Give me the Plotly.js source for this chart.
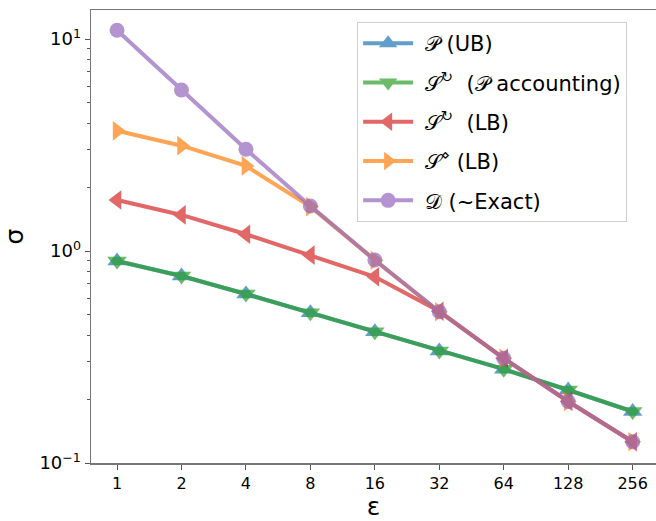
<!DOCTYPE html>
<html>
<head>
<meta charset="utf-8">
<script src="https://cdn.plot.ly/plotly-3.0.1.min.js"></script>
<style>html,body{margin:0;padding:0;overflow:hidden;background:#fff}</style>
</head>
<body>
<div id="chart" style="width:656px;height:521px"></div>
<script>
const epsilon = [1, 2, 4, 8, 16, 32, 64, 128, 256];
const epsLabels = ["1", "2", "4", "8", "16", "32", "64", "128", "256"];
const pUB = [0.897, 0.762, 0.627, 0.512, 0.416, 0.338, 0.277, 0.221, 0.175];
const sCycAcc = [0.897, 0.762, 0.627, 0.512, 0.416, 0.338, 0.277, 0.221, 0.175];
const sCycLB = [1.74, 1.48, 1.20, 0.957, 0.756, 0.52, 0.312, 0.195, 0.126];
const sDiaLB = [3.69, 3.14, 2.52, 1.62, 0.905, 0.517, 0.312, 0.195, 0.126];
const dExact = [11.0, 5.75, 3.02, 1.63, 0.907, 0.517, 0.312, 0.195, 0.126];

const names = [
  " <span style='font-family:DejaVu Serif'>𝒫</span> (UB)",
  " <span style='font-family:DejaVu Serif'>𝒮</span><sup>↻</sup>  (<span style='font-family:DejaVu Serif'>𝒫</span> accounting)",
  " <span style='font-family:DejaVu Serif'>𝒮</span><sup>↻</sup>  (LB)",
  " <span style='font-family:DejaVu Serif'>𝒮</span><sup>⋄</sup> (LB)",
  " <span style='font-family:DejaVu Serif'>𝒟</span> (~Exact)"
];
const series = [pUB, sCycAcc, sCycLB, sDiaLB, dExact];
const colors = ["#1f77b4", "#2ca02c", "#d62728", "#ff7f0e", "#9467bd"];
const symbols = ["triangle-up", "triangle-down", "triangle-left", "triangle-right", "circle"];
const sizes = [17, 17, 17, 17, 15];

const traces = series.map((ys, i) => ({
  x: epsilon, y: ys, name: names[i], type: "scatter", mode: "lines+markers",
  legendgroup: "g" + i,
  opacity: 0.7,
  line: {color: colors[i], width: 4},
  marker: {color: colors[i], symbol: symbols[i], size: sizes[i], line: {width: 0}}
}));

const L2 = Math.log10(2);
const layout = {
  width: 656, height: 521,
  margin: {l: 91, r: 0, t: 10, b: 58},
  paper_bgcolor: "#fff", plot_bgcolor: "#fff",
  font: {family: "DejaVu Sans", color: "#000", size: 15},
  showlegend: true,
  legend: {
    x: 0.471, y: 0.9735, xanchor: "left", yanchor: "top",
    bgcolor: "rgba(255,255,255,0.8)", bordercolor: "#d0d0d0", borderwidth: 1,
    font: {family: "DejaVu Sans", size: 21, color: "#000"},
    itemwidth: 50, tracegroupgap: 9
  },
  xaxis: {
    type: "log",
    range: [-0.404 * L2, (8 + 0.362) * L2],
    tickvals: epsilon, ticktext: epsLabels,
    ticks: "outside", ticklen: 5, tickcolor: "#555", tickwidth: 1,
    showgrid: false, zeroline: false,
    showline: true, linecolor: "#777", linewidth: 1.5, mirror: true,
    tickfont: {size: 16},
    title: {text: "ε", font: {size: 25}, standoff: 6}
  },
  yaxis: {
    type: "log",
    range: [-1, 1.137],
    tickvals: [0.1, 1, 10],
    ticktext: ["10<sup>−1</sup>", "10<sup>0</sup>", "10<sup>1</sup>"],
    ticks: "outside", ticklen: 5, tickcolor: "#555", tickwidth: 1,
    minor: {tickvals: [0.2,0.3,0.4,0.5,0.6,0.7,0.8,0.9,2,3,4,5,6,7,8,9],
            ticks: "outside", ticklen: 3, tickcolor: "#555", showgrid: false},
    showgrid: false, zeroline: false,
    showline: true, linecolor: "#777", linewidth: 1.5, mirror: true,
    tickfont: {size: 18},
    title: {text: "σ", font: {size: 25}, standoff: 14}
  }
};
Plotly.newPlot("chart", traces, layout, {displayModeBar: false, staticPlot: true});
</script>
</body>
</html>
